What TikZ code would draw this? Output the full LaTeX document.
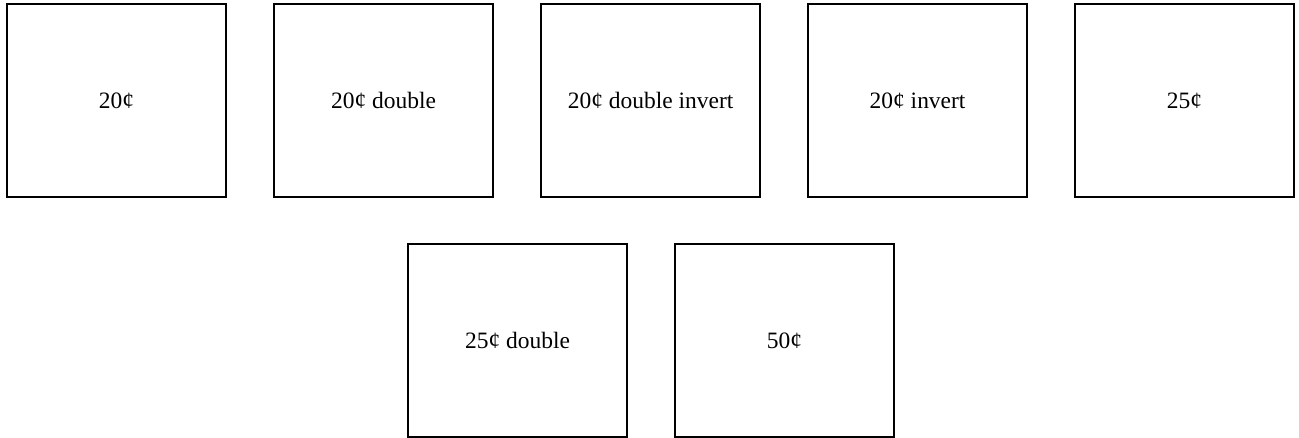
\documentclass[tikz,border=0pt]{standalone}
\usepackage{fontspec}
\setmainfont{Liberation Serif}
\begin{document}
\begin{tikzpicture}[x=0.75pt,y=-0.75pt,
  card/.style={draw=black,line width=1.6pt,minimum width=164.25pt,minimum height=144.75pt,inner sep=0pt,font=\fontsize{17.6}{20}\selectfont,anchor=north west}]
\useasboundingbox (0,0) rectangle (1299,438);
\node[card] (a) at (6,3) {20¢};
\node[card] (b) at (273,3) {20¢ double};
\node[card] (c) at (540,3) {20¢ double invert};
\node[card] (d) at (807,3) {20¢ invert};
\node[card] (e) at (1074,3) {25¢};
\node[card] (f) at (407,243) {25¢ double};
\node[card] (g) at (674,243) {50¢};
\end{tikzpicture}
\end{document}
